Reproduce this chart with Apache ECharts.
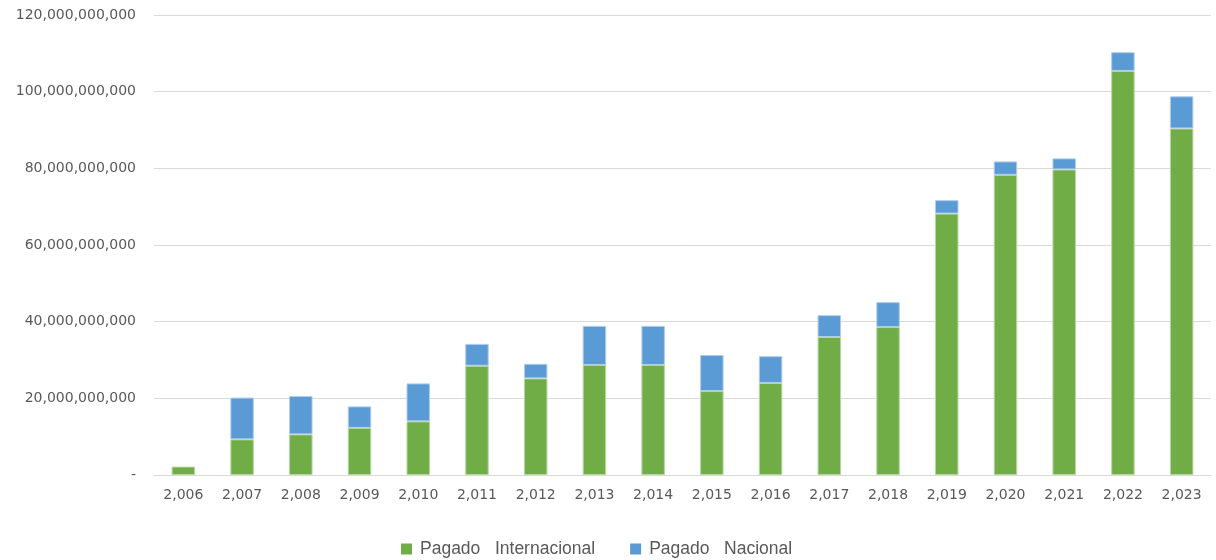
<!DOCTYPE html>
<html>
<head>
<meta charset="utf-8">
<script src="https://cdn.jsdelivr.net/npm/echarts@6/dist/echarts.min.js"></script>
<style>html,body{margin:0;padding:0;background:#fff}#c{width:1216px;height:560px}</style>
</head>
<body>
<div id="c"></div>
<script>
const categories = ['2,006','2,007','2,008','2,009','2,010','2,011','2,012','2,013','2,014','2,015','2,016','2,017','2,018','2,019','2,020','2,021','2,022','2,023'];
const internacional = [2.2, 9.3, 10.6, 12.3, 14.0, 28.5, 25.2, 28.7, 28.7, 21.9, 24.0, 36.0, 38.6, 68.2, 78.3, 79.7, 105.4, 90.4].map(v => v * 1e9);
const nacional = [null, 10.9, 10.0, 5.6, 9.9, 5.7, 3.8, 10.2, 10.2, 9.4, 7.0, 5.7, 6.5, 3.5, 3.5, 2.9, 4.9, 8.4].map(v => v == null ? null : v * 1e9);
const seriesNames = ['Pagado   Internacional', 'Pagado   Nacional'];

const chart = echarts.init(document.getElementById('c'));
const fmt = v => v === 0 ? '-' : v.toString().replace(/\B(?=(\d{3})+(?!\d))/g, ',');
const axisFont = 'DejaVu Sans, sans-serif';
chart.setOption({
  animation: false,
  grid: { left: 154, right: 5, top: 15, bottom: 85, containLabel: false },
  legend: {
    top: 535, left: 396, itemWidth: 11, itemHeight: 11, itemGap: 35,
    icon: 'rect',
    itemStyle: { borderWidth: 0 },
    textStyle: { color: '#595959', fontSize: 17.5, fontFamily: 'Liberation Sans, Arial, sans-serif', padding: [0, 0, 0, 3] },
    data: seriesNames
  },
  xAxis: {
    type: 'category', data: categories,
    axisLine: { lineStyle: { color: '#d9d9d9' } },
    axisTick: { show: false },
    axisLabel: { color: '#595959', fontSize: 14, margin: 13, fontFamily: axisFont }
  },
  yAxis: {
    type: 'value', min: 0, max: 120e9, interval: 20e9,
    axisLine: { show: false }, axisTick: { show: false },
    splitLine: { lineStyle: { color: '#d9d9d9' } },
    axisLabel: { color: '#595959', fontSize: 14, margin: 18, formatter: fmt, fontFamily: axisFont }
  },
  series: [
    { name: seriesNames[0], type: 'bar', stack: 't', data: internacional, barWidth: '40%',
      itemStyle: { color: '#70AD47', borderColor: '#b7d7a3', borderWidth: 1 } },
    { name: seriesNames[1], type: 'bar', stack: 't', data: nacional, barWidth: '40%',
      itemStyle: { color: '#5B9BD5', borderColor: '#b0cdec', borderWidth: 1 } }
  ]
});
</script>
</body>
</html>
